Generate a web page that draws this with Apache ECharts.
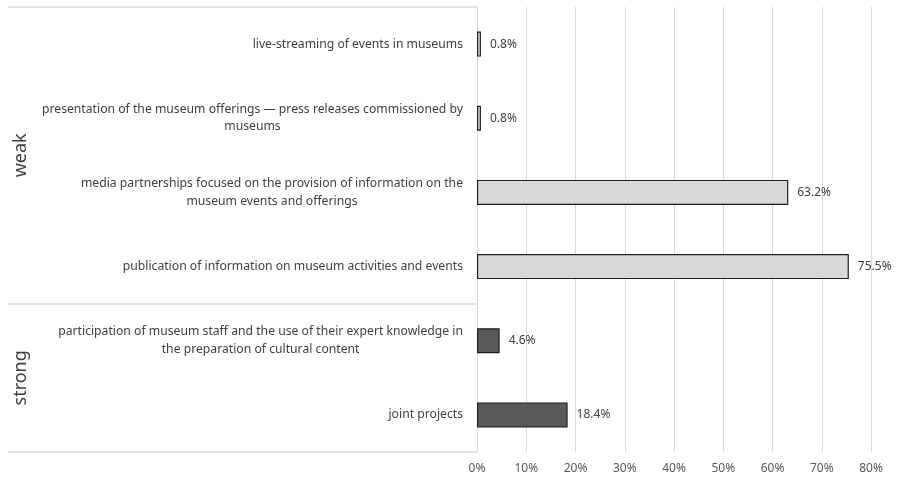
<!DOCTYPE html>
<html>
<head>
<meta charset="utf-8">
<script src="https://cdn.jsdelivr.net/npm/echarts@6/dist/echarts.min.js"></script>
<style>
  html, body { margin: 0; padding: 0; background: #fff; }
  #chart { width: 897px; height: 477px; }
</style>
</head>
<body>
<div id="chart"></div>
<script>
// Forms of cooperation, listed top to bottom
const categories = [
  'live-streaming of events in museums',
  'presentation of the museum offerings \u2014 press releases commissioned by\nmuseums',
  'media partnerships focused on the provision of information on the\nmuseum events and offerings',
  'publication of information on museum activities and events',
  'participation of museum staff and the use of their expert knowledge in\nthe preparation of cultural content',
  'joint projects'
];
// Share of responses (%)
const values = [0.8, 0.8, 63.2, 75.5, 4.6, 18.4];
// Cooperation strength of each row
const strength = ['weak', 'weak', 'weak', 'weak', 'strong', 'strong'];
// Strength groups and their row spans
const groupNames = ['weak', 'strong'];
const groupSizes = [4, 2];
// Value axis ticks
const xTicks = [0, 10, 20, 30, 40, 50, 60, 70, 80];

const fillColors = { weak: '#d9d9d9', strong: '#595959' };

// Group boundaries and centres in row units
const bounds = [0];
groupSizes.forEach(s => bounds.push(bounds[bounds.length - 1] + s));
const centres = groupSizes.map((s, i) => bounds[i] + s / 2);

const labelFont = '"Noto Sans", "Open Sans", sans-serif';
const catSize = 12.2;

const chart = echarts.init(document.getElementById('chart'), null, { renderer: 'canvas' });
chart.setOption({
  animation: false,
  backgroundColor: '#ffffff',
  grid: { left: 477, right: 26, top: 7, bottom: 25, containLabel: false },
  xAxis: {
    type: 'value',
    min: xTicks[0],
    max: xTicks[xTicks.length - 1],
    interval: xTicks[1] - xTicks[0],
    axisLine: { show: false },
    axisTick: { show: false },
    splitLine: { show: true, lineStyle: { color: '#d9d9d9', width: 1 } },
    axisLabel: {
      formatter: '{value}%',
      color: '#595959',
      fontSize: 12,
      fontFamily: labelFont,
      margin: 11
    }
  },
  yAxis: [
    {
      type: 'category',
      data: categories,
      inverse: true,
      axisLine: { show: true, lineStyle: { color: '#d9d9d9', width: 1 } },
      axisTick: { show: false },
      axisLabel: {
        margin: 14,
        color: '#404040',
        fontSize: catSize,
        fontFamily: labelFont,
        lineHeight: 17.5,
        formatter: v => v.split('\n').map(l => '{c|' + l + '}').join('\n'),
        rich: { c: { align: 'center', color: '#404040', fontSize: catSize, fontFamily: labelFont, lineHeight: 17.5 } }
      }
    },
    {
      // Group axis: separator lines and strength names
      type: 'value',
      position: 'left',
      inverse: true,
      min: 0,
      max: bounds[bounds.length - 1],
      axisLine: { show: false },
      splitLine: { show: false },
      axisTick: {
        show: true,
        customValues: bounds,
        length: 469,
        lineStyle: { color: '#d9d9d9', width: 1.5 }
      },
      axisLabel: {
        customValues: centres,
        formatter: v => groupNames[centres.indexOf(v)],
        rotate: 90,
        margin: 447,
        color: '#404040',
        fontSize: 18,
        fontFamily: labelFont
      }
    }
  ],
  series: [{
    type: 'bar',
    yAxisIndex: 0,
    barWidth: 25,
    data: values.map((v, i) => ({
      value: v,
      itemStyle: { color: fillColors[strength[i]] }
    })),
    itemStyle: { borderColor: '#1f1f1f', borderWidth: 1.2 },
    label: {
      show: true,
      position: 'right',
      distance: 9,
      formatter: p => p.value + '%',
      color: '#404040',
      fontSize: 12,
      fontFamily: labelFont
    }
  }]
});
</script>
</body>
</html>
